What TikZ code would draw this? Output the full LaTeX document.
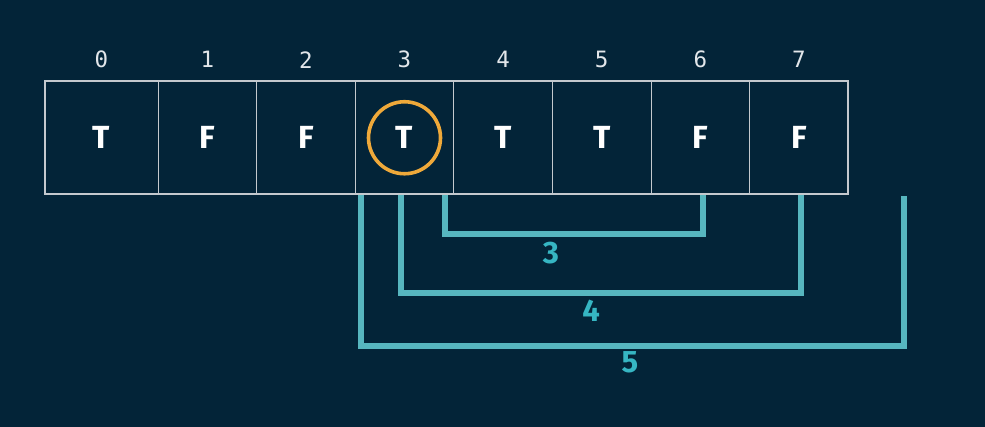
\documentclass[tikz,border=0pt]{standalone}
\usepackage{fontspec}
\setmainfont{Fira Sans}
\newfontfamily\idxfont{DejaVu Sans Mono}
\definecolor{bg}{HTML}{032438}
\definecolor{cellline}{HTML}{C4C9CE}
\definecolor{teal}{HTML}{57B6BF}
\definecolor{teallbl}{HTML}{36B6C3}
\definecolor{ring}{HTML}{EFA93A}
\definecolor{idx}{HTML}{E2E6EA}
\tikzset{
  cellbox/.style={draw=cellline, line width=0.8pt, minimum height=112.5pt, inner sep=0pt, outer sep=0pt,
    font=\fontsize{32}{34}\selectfont\bfseries, text=white},
  idxlbl/.style={font=\idxfont\fontsize{22.5}{25}\selectfont, text=idx, inner sep=0pt},
  bracket/.style={draw=teal, line width=6pt, line join=miter},
  blabel/.style={font=\fontsize{31}{33}\selectfont\bfseries, text=teallbl, inner sep=0pt},
}
\begin{document}
\begin{tikzpicture}[x=1pt,y=-1pt]
\useasboundingbox (0,0) rectangle (985,427);
\fill[bg] (0,0) rectangle (985,427);
% brackets (behind box)
\coordinate (b3a) at (445,194); \coordinate (b3b) at (703,194);
\coordinate (b4a) at (401,194); \coordinate (b4b) at (801,194);
\coordinate (b5a) at (361,194); \coordinate (b5b) at (904,196);
\draw[bracket] (b3a) -- ++(0,40) -| (b3b);
\draw[bracket] (b4a) -- ++(0,99) -| (b4b);
\draw[bracket] (b5a) -- ++(0,152) -| (b5b);
\node[blabel] (l3) at (551,253) {3};
\node[blabel] (l4) at (591,311) {4};
\node[blabel] (l5) at (630,362) {5};
% cells
\node[cellbox, minimum width=113pt] (c0) at (101.5,137.75) {T};
\node[cellbox, minimum width=98.6pt, anchor=west] (c1) at (c0.east) {F};
\node[cellbox, minimum width=98.6pt, anchor=west] (c2) at (c1.east) {F};
\node[cellbox, minimum width=98.6pt, anchor=west] (c3) at (c2.east) {T};
\node[cellbox, minimum width=98.6pt, anchor=west] (c4) at (c3.east) {T};
\node[cellbox, minimum width=98.6pt, anchor=west] (c5) at (c4.east) {T};
\node[cellbox, minimum width=98.6pt, anchor=west] (c6) at (c5.east) {F};
\node[cellbox, minimum width=98.6pt, anchor=west] (c7) at (c6.east) {F};
\draw[draw=cellline, line width=2pt] (c0.north west) rectangle (c7.south east);
% indices
\foreach \i in {0,...,7}{
  \node[idxlbl] (i\i) at ([yshift=78pt]c\i.center) {\i};
}
% highlight ring
\node[circle, draw=ring, line width=3.6pt, minimum size=72pt, inner sep=0pt] (ringnode) at (c3.center) {};
\end{tikzpicture}
\end{document}
